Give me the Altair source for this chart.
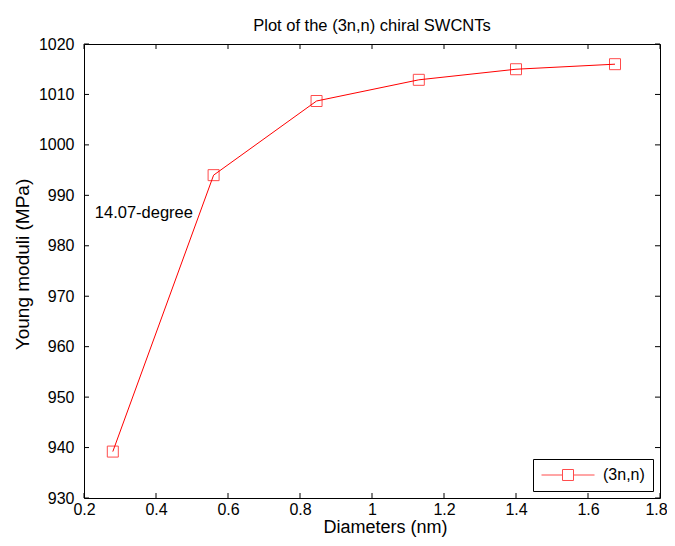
import altair as alt
import pandas as pd

# ---- data ----
diameters = [0.28, 0.56, 0.846, 1.13, 1.40, 1.675]
moduli = [939.2, 994.0, 1008.7, 1012.9, 1015.0, 1016.0]
series_name = "(3n,n)"
x_ticks = [0.2, 0.4, 0.6, 0.8, 1.0, 1.2, 1.4, 1.6, 1.8]
y_ticks = [930, 940, 950, 960, 970, 980, 990, 1000, 1010, 1020]
note_text = ["14.07-degree"]
note_x = [0.23]
note_y = [986.4]

FONT = "Liberation Sans"
W, H = 576, 454
TICK = 5

df = pd.DataFrame({"d": diameters, "E": moduli, "s": [series_name] * len(diameters)})
xt = pd.DataFrame({"v": x_ticks})
yt = pd.DataFrame({"v": y_ticks})
note = pd.DataFrame({"t": note_text, "x": note_x, "y": note_y})

xs = alt.Scale(domain=[x_ticks[0], x_ticks[-1]], nice=False, zero=False)
ys = alt.Scale(domain=[y_ticks[0], y_ticks[-1]], nice=False, zero=False)

xaxis = alt.Axis(values=x_ticks, format="~g", grid=False, domain=False, ticks=False,
                 labelFlush=False,
                 labelOffset={"condition": {"test": "datum.value >= 1.79", "value": -4},
                              "value": 0},
                 labelFont=FONT, labelFontSize=16, labelColor="black", labelPadding=3,
                 title="Diameters (nm)", titleFont=FONT, titleFontSize=18,
                 titleFontWeight="normal", titleColor="black", titlePadding=1,
                 titleX=301)
yaxis = alt.Axis(values=y_ticks, format="d", grid=False, domain=False, ticks=False,
                 labelFlush=False,
                 labelFont=FONT, labelFontSize=16, labelColor="black", labelPadding=10,
                 title="Young moduli (MPa)", titleFont=FONT, titleFontSize=19,
                 titleFontWeight="normal", titleColor="black", titlePadding=6,
                 titleY=220)

line = alt.Chart(df).mark_line(color="#ff0000", strokeWidth=1).encode(
    x=alt.X("d:Q", scale=xs, axis=xaxis),
    y=alt.Y("E:Q", scale=ys, axis=yaxis),
)

# legend symbol: 15px slot (7.5 px per unit); line 53px long with an 11px square in it
legend_path = ("M-1,0L1.8,0M3.267,0L6.07,0"
               "M1.8,-0.733L3.267,-0.733L3.267,0.733L1.8,0.733Z")

pts = alt.Chart(df).mark_point(shape="square", filled=False, size=121, strokeWidth=1).encode(
    x=alt.X("d:Q", scale=xs),
    y=alt.Y("E:Q", scale=ys),
    color=alt.Color("s:N", scale=alt.Scale(domain=[series_name], range=["#ff0000"]),
                    title=None,
                    legend=alt.Legend(orient="bottom-right", offset=7, padding=8,
                                      symbolType=legend_path, symbolSize=225,
                                      symbolStrokeWidth=1, symbolFillColor="transparent",
                                      labelFont=FONT, labelFontSize=16, labelColor="black",
                                      labelOffset=46, strokeColor="black", fillColor="white")),
)

txt = alt.Chart(note).mark_text(align="left", baseline="middle", font=FONT, fontSize=16.5,
                                color="black").encode(
    x=alt.X("x:Q", scale=xs), y=alt.Y("y:Q", scale=ys), text="t:N")

xb = alt.Chart(xt).mark_rule(color="black", strokeWidth=1).encode(
    x=alt.X("v:Q", scale=xs), y=alt.value(H), y2=alt.value(H - TICK))
xtp = alt.Chart(xt).mark_rule(color="black", strokeWidth=1).encode(
    x=alt.X("v:Q", scale=xs), y=alt.value(0), y2=alt.value(TICK))
yl = alt.Chart(yt).mark_rule(color="black", strokeWidth=1).encode(
    y=alt.Y("v:Q", scale=ys), x=alt.value(0), x2=alt.value(TICK))
yr = alt.Chart(yt).mark_rule(color="black", strokeWidth=1).encode(
    y=alt.Y("v:Q", scale=ys), x=alt.value(W - TICK), x2=alt.value(W))

chart = alt.layer(xb, xtp, yl, yr, line, pts, txt).properties(
    width=W, height=H,
    title=alt.TitleParams("Plot of the (3n,n) chiral SWCNTs", font=FONT, fontSize=16.5,
                          fontWeight="normal", color="black", anchor="middle", offset=2),
    autosize=alt.AutoSizeParams(type="none"),
    padding={"left": 76, "top": 36, "right": 7, "bottom": 40},
    background="white",
).configure_view(stroke="black", strokeWidth=1)

chart.save("out.html", embed_options={"renderer": "svg", "actions": False})
